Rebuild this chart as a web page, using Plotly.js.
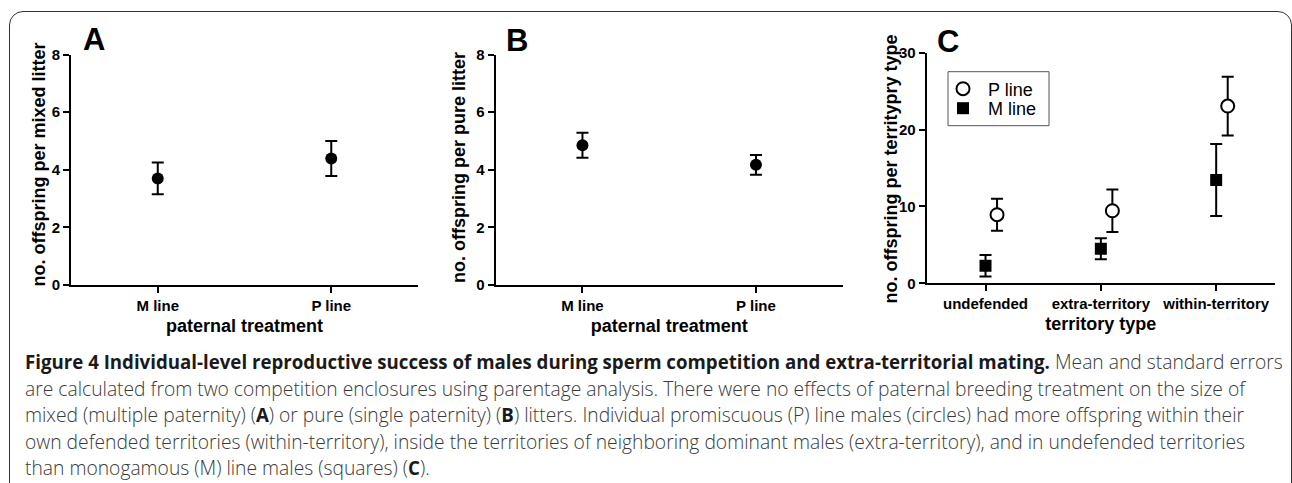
<!DOCTYPE html>
<html><head><meta charset="utf-8">
<script src="https://cdn.plot.ly/plotly-3.0.1.min.js"></script>
<style>
html,body{margin:0;padding:0;background:#fff;}
#wrap{position:relative;width:1292px;height:483px;overflow:hidden;background:#fff;}
#chart{position:absolute;left:0;top:0;width:1292px;height:483px;}
#frame{position:absolute;left:9px;top:11px;width:1283px;height:600px;border:1.5px solid #333;border-radius:14px;pointer-events:none;box-sizing:border-box;}
#caption{position:absolute;left:25px;top:349px;font-family:'Open Sans',sans-serif;font-weight:300;font-size:16px;line-height:26.5px;color:#3a3a3a;white-space:nowrap;}
#caption b{color:#1a1a1a;font-weight:700;}
#caption div{white-space:nowrap;}
#caption span{white-space:nowrap;}
</style></head>
<body>
<div id="wrap">
<div id="chart"></div>
<div id="caption">
<div><b id="boldlead">Figure 4 Individual-level reproductive success of males during sperm competition and extra-territorial mating.</b> Mean and standard errors</div>
<div><span id="l2">are calculated from two competition enclosures using parentage analysis. There were no effects of paternal breeding treatment on the size of</span></div>
<div>mixed (multiple paternity) (<b>A</b>) or pure (single paternity) (<b>B</b>) litters. Individual promiscuous (P) line males (circles) had more offspring within their</div>
<div>own defended territories (within-territory), inside the territories of neighboring dominant males (extra-territory), and in undefended territories</div>
<div>than monogamous (M) line males (squares) (<b>C</b>).</div>
</div>
<div id="frame"></div>
</div>
<script>
// ---- data ----
const panelACategories = ['M line', 'P line'];
const panelAMeans = [3.70, 4.39];
const panelASE = [0.55, 0.61];

const panelBCategories = ['M line', 'P line'];
const panelBMeans = [4.85, 4.17];
const panelBSE = [0.43, 0.34];

const panelCCategories = ['undefended', 'extra-territory', 'within-territory'];
const panelCPLineMeans = [8.92, 9.44, 23.06];
const panelCPLineSE = [2.08, 2.75, 3.82];
const panelCMLineMeans = [2.29, 4.50, 13.43];
const panelCMLineSE = [1.40, 1.37, 4.68];

const yTicksAB = [0, 2, 4, 6, 8];
const yTicksC = [0, 10, 20, 30];

const yTitleA = 'no. offspring per mixed litter';
const yTitleB = 'no. offspring per pure litter';
const yTitleC = 'no. offspring per territypry type';
const xTitleAB = 'paternal treatment';
const xTitleC = 'territory type';

// ---- layout helpers ----
const W = 1292, H = 483;
const dx = (a, b) => [a / W, b / W];
const dy = (top, bottom) => [1 - bottom / H, 1 - top / H];

const SANS = 'Liberation Sans, Arial, sans-serif';
const titleFont = {family: SANS, size: 18, color: '#000', weight: 'bold'};
const tickFont = {family: SANS, size: 15, color: '#000', weight: 'bold'};
const yTickFont = {family: SANS, size: 15, color: '#000', weight: 'bold'};

const errStyle = (se) => ({type: 'data', array: se, visible: true, color: '#000', thickness: 2, width: 6});

const cIdx = panelCCategories.map((_, i) => i);
const pOffset = 0.1;

const traces = [
  {x: panelACategories, y: panelAMeans, error_y: errStyle(panelASE), type: 'scatter', mode: 'markers',
   marker: {symbol: 'circle', size: 12, color: '#000'}, xaxis: 'x', yaxis: 'y', showlegend: false},
  {x: panelBCategories, y: panelBMeans, error_y: errStyle(panelBSE), type: 'scatter', mode: 'markers',
   marker: {symbol: 'circle', size: 12, color: '#000'}, xaxis: 'x2', yaxis: 'y2', showlegend: false},
  {name: 'P line', legend: 'legend', x: cIdx.map(i => i + pOffset), y: panelCPLineMeans, error_y: errStyle(panelCPLineSE), type: 'scatter', mode: 'markers',
   marker: {symbol: 'circle', size: 13, color: '#fff', line: {color: '#000', width: 2}}, xaxis: 'x3', yaxis: 'y3'},
  {name: 'M line', legend: 'legend2', x: cIdx, y: panelCMLineMeans, error_y: errStyle(panelCMLineSE), type: 'scatter', mode: 'markers',
   marker: {symbol: 'square', size: 12, color: '#000'}, xaxis: 'x3', yaxis: 'y3'}
];

const axBase = {showgrid: false, zeroline: false, showline: true, linecolor: '#000', linewidth: 2,
  ticks: 'outside', ticklen: 6, tickwidth: 2, tickcolor: '#000', automargin: false, fixedrange: true, tickangle: 0};

const yTitleAnn = (text, xpx, ypx) => ({text: text, x: xpx / W, y: 1 - ypx / H, xref: 'paper', yref: 'paper',
  xanchor: 'center', yanchor: 'middle', textangle: -90, showarrow: false, font: titleFont});

const legendStyle = (ypx) => ({x: 938 / W, y: 1 - ypx / H, xanchor: 'left', yanchor: 'middle', itemwidth: 40,
  bgcolor: 'rgba(0,0,0,0)', borderwidth: 0, font: {family: SANS, size: 18, color: '#000'}});

const layout = {
  width: W, height: H,
  margin: {l: 0, r: 0, t: 0, b: 0},
  paper_bgcolor: 'rgba(0,0,0,0)', plot_bgcolor: 'rgba(0,0,0,0)',
  showlegend: true,
  legend: legendStyle(89),
  legend2: legendStyle(108.5),
  shapes: [{type: 'rect', xref: 'paper', yref: 'paper', x0: 948 / W, x1: 1049 / W, y0: 1 - 125.7 / H, y1: 1 - 71.7 / H,
    line: {color: '#555', width: 1}, fillcolor: 'rgba(0,0,0,0)', layer: 'above'}],
  xaxis: Object.assign({}, axBase, {domain: dx(71, 418), anchor: 'y', type: 'category', range: [-0.5, 1.5],
    tickfont: tickFont, title: {text: xTitleAB, font: titleFont, standoff: 6}}),
  yaxis: Object.assign({}, axBase, {domain: dy(54.5, 285), anchor: 'x', range: [0, 8], tickvals: yTicksAB,
    tickfont: yTickFont}),
  xaxis2: Object.assign({}, axBase, {domain: dx(495.7, 842.7), anchor: 'y2', type: 'category', range: [-0.5, 1.5],
    tickfont: tickFont, title: {text: xTitleAB, font: titleFont, standoff: 6}}),
  yaxis2: Object.assign({}, axBase, {domain: dy(54.5, 285), anchor: 'x2', range: [0, 8], tickvals: yTicksAB,
    tickfont: yTickFont}),
  xaxis3: Object.assign({}, axBase, {domain: dx(926.7, 1275), anchor: 'y3', range: [-0.51, 2.51],
    tickvals: cIdx, ticktext: panelCCategories,
    tickfont: tickFont, title: {text: xTitleC, font: titleFont, standoff: 6}}),
  yaxis3: Object.assign({}, axBase, {domain: dy(52.7, 283.3), anchor: 'x3', range: [0, 30], tickvals: yTicksC,
    tickfont: yTickFont}),
  annotations: [
    {text: 'A', x: 93.5 / W, y: 1 - 40 / H},
    {text: 'B', x: 516.7 / W, y: 1 - 40.7 / H},
    {text: 'C', x: 948 / W, y: 1 - 41.5 / H}
  ].map(a => Object.assign(a, {xref: 'paper', yref: 'paper', xanchor: 'center', yanchor: 'middle', showarrow: false,
    font: {family: SANS, size: 31, color: '#000', weight: 'bold'}}))
  .concat([
    yTitleAnn(yTitleA, 38.5, 165),
    yTitleAnn(yTitleB, 458.5, 167.5),
    yTitleAnn(yTitleC, 891, 169.5)
  ])
};

Plotly.newPlot('chart', traces, layout, {displayModeBar: false, staticPlot: true});

// fit caption text widths to the reference line lengths
(function fit() {
  const cap = document.getElementById('caption');
  const l2 = document.getElementById('l2');
  const w2 = l2.getBoundingClientRect().width;
  if (w2 > 0) {
    cap.style.fontSize = (16 * 1220 / w2).toFixed(2) + 'px';
  }
  const bl = document.getElementById('boldlead');
  const fsNow = parseFloat(getComputedStyle(bl).fontSize);
  const wb = bl.getBoundingClientRect().width;
  if (wb > 0) {
    const bfs = fsNow * 1025 / wb;
    document.querySelectorAll('#caption b').forEach(b => { b.style.fontSize = bfs.toFixed(2) + 'px'; });
  }
})();
</script>
</body></html>
